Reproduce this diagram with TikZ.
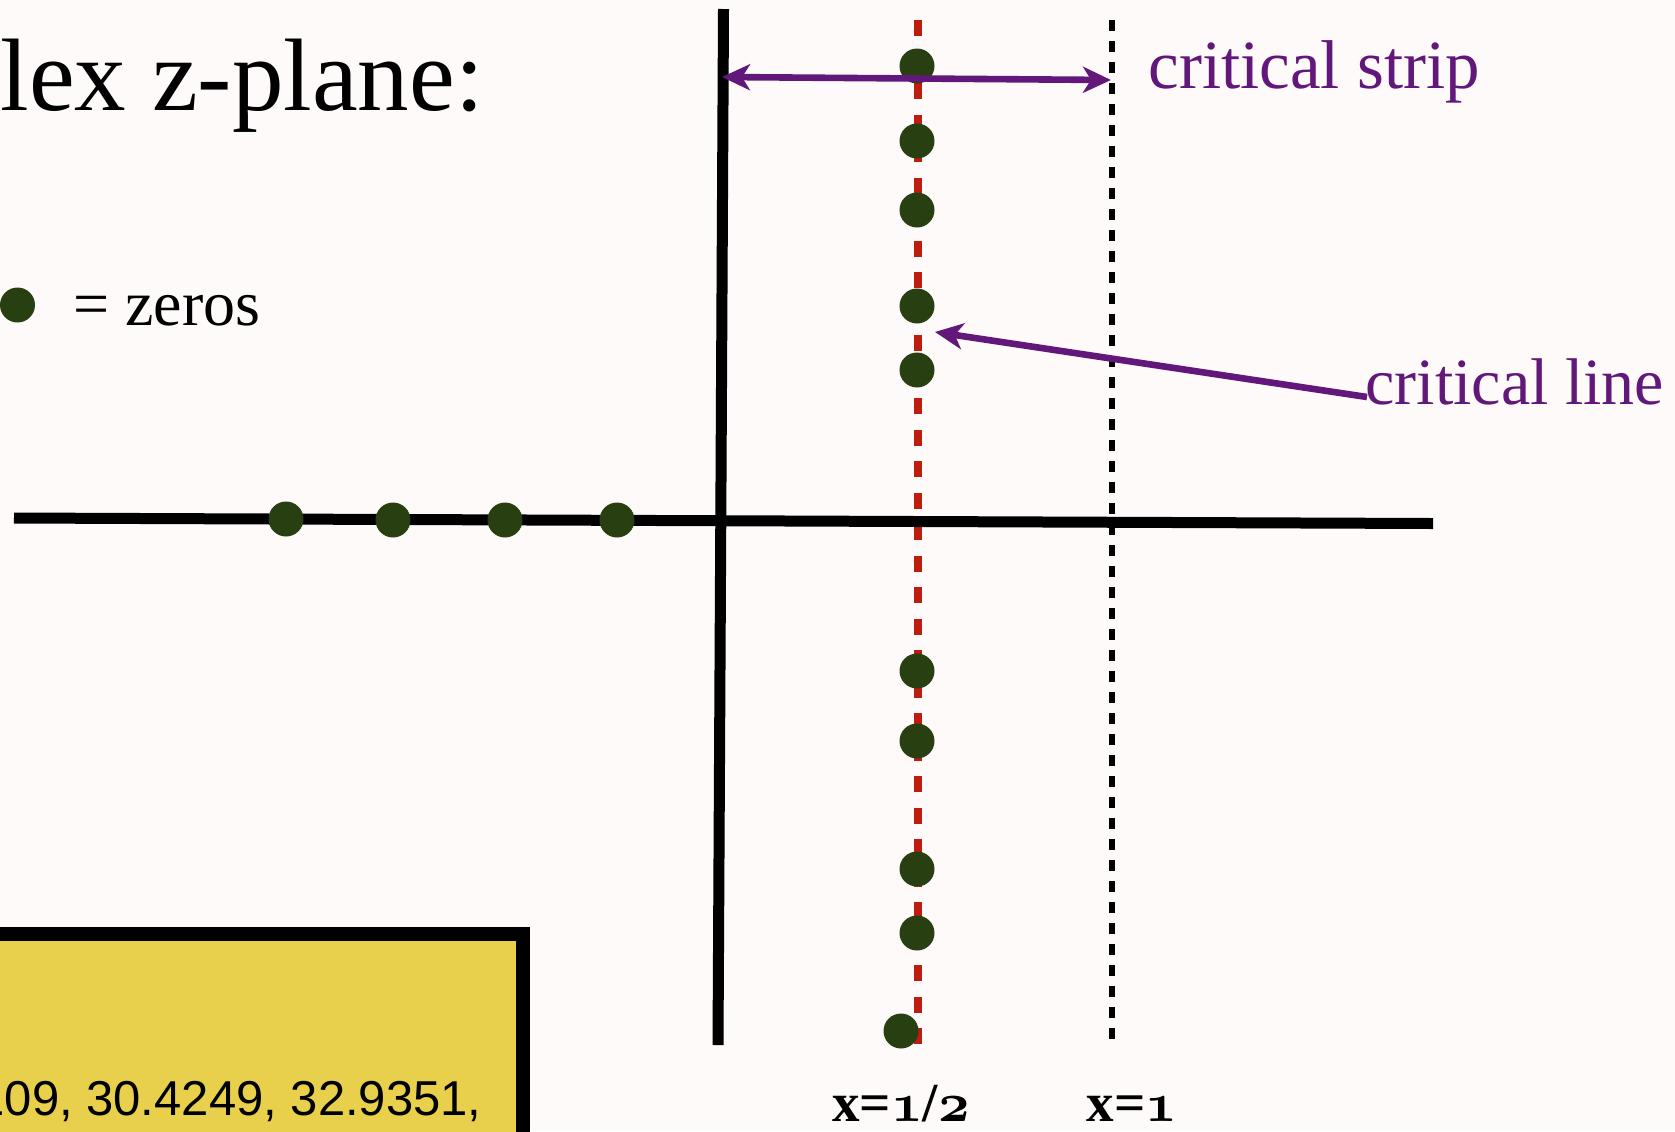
\RequirePackage{fix-cm}
\documentclass[tikz,border=0pt]{standalone}
\usepackage{fontspec}
\setmainfont{Liberation Serif}
\newfontfamily\boxfont{Liberation Sans}
\usetikzlibrary{arrows.meta,calc}
\definecolor{bgcol}{HTML}{FEFAF9}
\definecolor{zerogreen}{HTML}{283F12}
\definecolor{critred}{HTML}{BE1C0E}
\definecolor{purp}{HTML}{62187A}
\definecolor{boxyellow}{HTML}{E9D04C}
\newcommand\osnum[1]{{\usefont{OML}{cmm}{b}{it}#1}}
\tikzset{
  zero/.style={circle, fill=zerogreen, inner sep=0pt, minimum size=17.5pt},
  axisline/.style={black, line width=5.5pt},
  critdash/.style={critred, line width=4.2pt, dash pattern=on 8pt off 7.75pt},
  stripdash/.style={black, line width=3pt, dash pattern=on 5.25pt off 5.25pt},
  purparrow/.style={purp, line width=3.3pt},
  ptip/.tip={Stealth[length=14pt,width=13pt,inset=4pt]},
  lbl/.style={inner sep=0pt, anchor=base west},
  purplbl/.style={lbl, text=purp},
  xlbl/.style={inner sep=0pt, anchor=base, font=\fontsize{27.5}{32}\selectfont\bfseries},
}
\begin{document}
\begin{tikzpicture}[x=0.5pt,y=-0.5pt]
\fill[bgcol] (0,0) rectangle (1675,1131);
\useasboundingbox (0,0) rectangle (1675,1131);
\clip (0,0) rectangle (1675,1131);

% title
\node[lbl, font=\fontsize{51.5}{60}\selectfont] (title) at (0,110) {lex z-plane:};

% legend
\node[zero] (legdot) at (17.5,305) {};
\node[lbl, font=\fontsize{32}{38}\selectfont] (legtxt) at (73,325) {= zeros};

% yellow box
\draw[line width=7pt, fill=boxyellow] (-20,934) rectangle (523,1170);
\node[inner sep=0pt, anchor=base east, font=\boxfont\fontsize{24.5}{29}\selectfont] (boxtxt) at (482,1115) {109, 30.4249, 32.9351,};

% strip boundary and critical line
\coordinate (sTop) at (1112,20);
\coordinate (sBot) at (1112,1047);
\draw[stripdash] (sTop) -- (sBot);
\coordinate (cTop) at (918,20);
\coordinate (cBot) at (918,1049);
\draw[critdash] (cTop) -- (cBot);

% axes
\coordinate (vTop) at (723.5,9);
\coordinate (vBot) at (718,1045);
\coordinate (hL) at (14,518);
\coordinate (hR) at (1433,523.5);
\draw[axisline] (hL) -- (hR);
\draw[axisline] (vTop) -- (vBot);

% nontrivial zeros
\node[zero] (n1) at (917,66) {};
\node[zero] (n2) at (917,141) {};
\node[zero] (n3) at (917,210) {};
\node[zero] (n4) at (917,306) {};
\node[zero] (n5) at (917,370) {};
\node[zero] (n6) at (917,671) {};
\node[zero] (n7) at (917,741) {};
\node[zero] (n8) at (917,869) {};
\node[zero] (n9) at (917,933) {};
\node[zero] (n10) at (901,1031) {};

% trivial zeros
\node[zero] (t1) at (286,519) {};
\node[zero] (t2) at (393,520) {};
\node[zero] (t3) at (505,520) {};
\node[zero] (t4) at (617,520) {};

% labels
\node[purplbl, font=\fontsize{34.5}{41}\selectfont] (cstrip) at (1148,88) {critical strip};
\node[purplbl, font=\fontsize{33}{40}\selectfont] (cline) at (1365,404) {critical line};
\node[xlbl] (xhalf) at (901,1121) {x=\osnum{1}/\osnum{2}};
\node[xlbl] (xone) at (1132,1121) {x=\osnum{1}};

% arrows
\coordinate (csL) at (722,77);
\coordinate (csR) at (1111,80);
\draw[purparrow, {ptip}-{ptip}] (csL) -- (csR);
\coordinate (clStart) at (1367,397);
\coordinate (clTip) at (935,332);
\draw[purparrow, -{ptip}] (clStart) -- (clTip);
\end{tikzpicture}
\end{document}
